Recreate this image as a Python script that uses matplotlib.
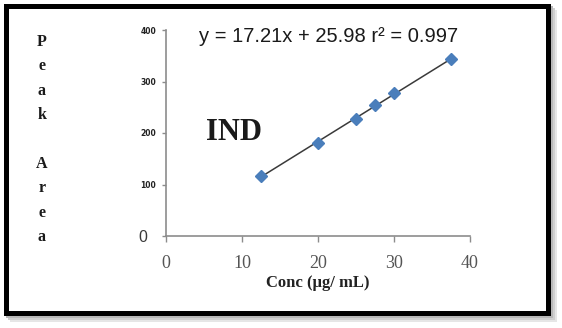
import matplotlib
matplotlib.use("Agg")
import matplotlib.pyplot as plt
import matplotlib.patches as mpatches
import matplotlib.transforms as mtransforms
import numpy as np

# datos de la curva de calibracion (IND)
concentracion = [12.5, 20, 25, 27.5, 30, 37.5]
area_pico = [116, 181, 228, 254, 277, 343]
ticks_x = [0, 10, 20, 30, 40]
ticks_y = [0, 100, 200, 300, 400]
ecuacion = "y = 17.21x + 25.98 r² = 0.997"
etiqueta_y = "Peak Area"
etiqueta_x = "Conc (µg/ mL)"

W, H = 562, 328
fig = plt.figure(figsize=(W / 100, H / 100), dpi=100)
fig.patch.set_facecolor("white")


def px(x, y):
    return x / W, 1 - y / H


# marco con sombra
for i, gris in enumerate(["#e6e6e6", "#d0d0d0", "#b8b8b8"]):
    d = 6 - 2 * i
    x0, y0 = px(5.5 + d, 312.5 + d)
    x1, y1 = px(547.5 + d, 5.5 + d)
    fig.patches.append(mpatches.Rectangle((x0, y0), x1 - x0, y1 - y0,
                                          transform=fig.transFigure, fill=False,
                                          edgecolor=gris, lw=3.6, zorder=-3))
x0, y0 = px(5.5, 312.5)
x1, y1 = px(547.5, 5.5)
fig.patches.append(mpatches.Rectangle((x0, y0), x1 - x0, y1 - y0,
                                      transform=fig.transFigure, facecolor="white",
                                      edgecolor="black", lw=3.6, zorder=-1))

ax = fig.add_axes([166 / W, 1 - 236 / H, (470 - 166) / W, (236 - 30) / H])
ax.set_facecolor("none")
ax.set_zorder(2)

pend, orden = np.polyfit(concentracion, area_pico, 1)
xs = np.array([min(concentracion), max(concentracion)])
ax.plot(xs, pend * xs + orden, color="#3a3a3a", lw=1.1, zorder=2)
ax.plot(concentracion, area_pico, linestyle="none", marker="D", markersize=6.5,
        color="#4a7ebb", markeredgecolor="#4a7ebb", zorder=3)

ax.set_xlim(0, 40)
ax.set_ylim(0, 400)
ax.set_xticks(ticks_x)
ax.set_yticks(ticks_y)
for lado in ["top", "right"]:
    ax.spines[lado].set_visible(False)
for lado in ["left", "bottom"]:
    ax.spines[lado].set_color("#8c8c8c")
    ax.spines[lado].set_linewidth(1.2)
ax.tick_params(axis="x", direction="out", length=4, width=1, color="#8c8c8c", pad=10)
ax.tick_params(axis="y", direction="out", length=3, width=1, color="#8c8c8c", pad=4)

ax.set_xticklabels([str(t) for t in ticks_x], family="Liberation Serif",
                   fontsize=13, color="#555555")
ax.set_yticklabels([str(t) for t in ticks_y])
for t, lab in zip(ticks_y, ax.get_yticklabels()):
    if t == 0:
        lab.set_fontsize(11.5)
        lab.set_family("Liberation Sans")
        lab.set_color("#3a3a3a")
        lab.set_transform(lab.get_transform() +
                          mtransforms.ScaledTranslation(-9 / 100, 0, fig.dpi_scale_trans))
    else:
        lab.set_fontsize(5.5)
        lab.set_fontweight("bold")
        lab.set_color("#222222")

cx, cy = px(318, 283)
fig.text(cx, cy, etiqueta_x, family="Liberation Serif", fontweight="bold",
         fontsize=12, color="#222222", ha="center", va="center")

ex, ey = px(329, 37)
fig.text(ex, ey, ecuacion, family="Liberation Sans", fontsize=14.5,
         color="#1a1a1a", ha="center", va="center")

ix, iy = px(234, 132)
fig.text(ix, iy, "IND", family="Liberation Serif", fontweight="bold",
         fontsize=22, color="#1a1a1a", ha="center", va="center")

# etiqueta vertical letra por letra
y_letra = 42
for letra in etiqueta_y:
    if letra != " ":
        lx, ly = px(42, y_letra)
        fig.text(lx, ly, letra, family="Liberation Serif", fontweight="bold",
                 fontsize=11.5, color="#1a1a1a", ha="center", va="center")
    y_letra += 24.4

fig.savefig("out.png", dpi=100, facecolor="white")
